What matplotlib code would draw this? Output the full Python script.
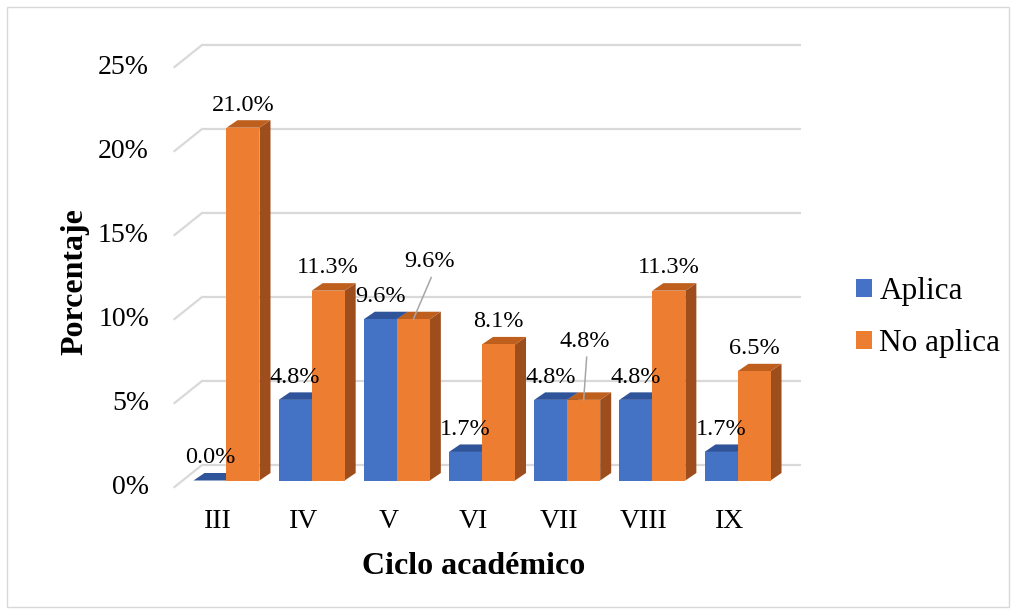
import matplotlib
matplotlib.use("Agg")
import matplotlib.pyplot as plt
from matplotlib.patches import Polygon, Rectangle, Patch

plt.rcParams['font.family'] = ['Liberation Serif', 'DejaVu Serif']

# datos por ciclo
ciclos = ["III", "IV", "V", "VI", "VII", "VIII", "IX"]
aplica = [0.0, 4.8, 9.6, 1.7, 4.8, 4.8, 1.7]
no_aplica = [21.0, 11.3, 9.6, 8.1, 4.8, 11.3, 6.5]
yticks = [0, 5, 10, 15, 20, 25]

# colores estilo Excel: frente, tapa, lateral
AZUL = ("#4472C4", "#30549A", "#2F528F")
NARANJA = ("#ED7D31", "#BF5F1E", "#9E4E1C")
GRID = "#D9D9D9"

# escala: 85.17 px por categoria, 16.8 px por punto porcentual
PX_X = 85.17
PX_Y = 16.8
W = 33 / PX_X                                  # ancho de cada barra
PROF_DX, PROF_DY = 11 / PX_X, 7.5 / PX_Y       # profundidad de la barra
PARED_DY = 15.5 / PX_Y                         # pared del fondo
FRENTE_DX, FRENTE_DY = -8.3 / PX_X, -6.5 / PX_Y  # borde frontal del piso
PARED_X0, PARED_X1 = -0.2877, 6.745
PISO_X0 = -0.6105

fig = plt.figure(figsize=(10.16, 6.14), dpi=100)
ax = fig.add_axes([0, 0, 1, 1])
ax.set_xlim(-226.5 / PX_X, (1016 - 226.5) / PX_X)
ax.set_ylim((480.5 - 614) / PX_Y, 480.5 / PX_Y)
ax.axis("off")

# rejilla: pared del fondo y diagonal del piso lateral
for t in yticks:
    yb = t + PARED_DY
    ax.plot([PARED_X0, PARED_X1], [yb, yb], color=GRID, lw=1.6, zorder=1,
            solid_capstyle="butt")
    ax.plot([PARED_X0, PISO_X0], [yb, t + FRENTE_DY], color=GRID, lw=1.6, zorder=1)
    ax.text(-0.91, t + FRENTE_DY, f"{t}%", ha="right", va="center", fontsize=20)


def barra(x0, v, colores, z):
    frente, tapa, lado = colores
    x1 = x0 + W
    ax.add_patch(Polygon([(x1, 0), (x1, v), (x1 + PROF_DX, v + PROF_DY),
                          (x1 + PROF_DX, PROF_DY)], closed=True,
                         facecolor=lado, lw=0, zorder=z))
    ax.add_patch(Polygon([(x0, v), (x1, v), (x1 + PROF_DX, v + PROF_DY),
                          (x0 + PROF_DX, v + PROF_DY)], closed=True,
                         facecolor=tapa, lw=0, zorder=z))
    ax.add_patch(Rectangle((x0, 0), W, v, facecolor=frente, lw=0, zorder=z))


# desplazamiento de etiquetas con linea guia (V y VII naranja)
guia = {(2, 1): (0.19, 2.08), (4, 1): (0.015, 2.14)}

for i, (a, n) in enumerate(zip(aplica, no_aplica)):
    for k, (v, col) in enumerate([(a, AZUL), (n, NARANJA)]):
        x0 = i - W if k == 0 else i
        barra(x0, v, col, 2 + i * 2 + k)
        cx = x0 + W / 2
        ly = v + 1.35
        if (i, k) in guia:
            dx, dy = guia[(i, k)]
            ax.plot([cx + dx + 0.02, cx], [ly + dy - 0.95, v], color="#A6A6A6",
                    lw=1.1, zorder=30)
            cx, ly = cx + dx, ly + dy
        ax.text(cx, ly, f"{v:.1f}%", ha="center", va="center", fontsize=17.5,
                zorder=31)
    ax.text(i + FRENTE_DX, (480.5 - 521) / PX_Y, ciclos[i], ha="center",
            va="center", fontsize=20)

ax.text(3 + FRENTE_DX, (480.5 - 567) / PX_Y, "Ciclo académico", ha="center",
        va="center", fontsize=23, fontweight="bold")
ax.text((75 - 226.5) / PX_X, (480.5 - 282) / PX_Y, "Porcentaje", ha="center",
        va="center", rotation=90, fontsize=23, fontweight="bold")

handles = [Patch(facecolor=AZUL[0], label="Aplica"),
           Patch(facecolor=NARANJA[0], label="No aplica")]
fig.legend(handles=handles, loc="center left",
           bbox_to_anchor=(856 / 1016, 1 - 317.5 / 614),
           frameon=False, fontsize=22.5, handlelength=0.5, handleheight=0.5,
           handletextpad=0.25, labelspacing=0.75, borderpad=0, borderaxespad=0)

fig.patches.append(Rectangle((7 / 1016, 7 / 614), 1002 / 1016, 600 / 614,
                             transform=fig.transFigure, fill=False,
                             edgecolor=GRID, lw=1))

fig.savefig("out.png", dpi=100)
